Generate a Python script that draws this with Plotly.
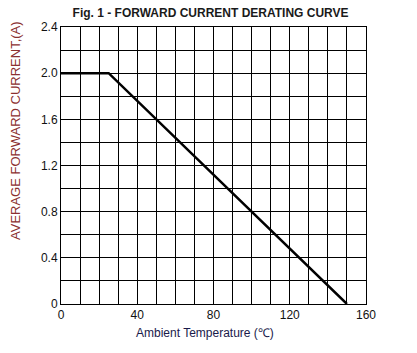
import plotly.graph_objects as go

temps = [0, 25, 150]
current = [2.0, 2.0, 0.0]
x_ticks = [0, 40, 80, 120, 160]
x_labels = ["0", "40", "80", "120", "160"]
y_ticks = [0, 0.4, 0.8, 1.2, 1.6, 2.0, 2.4]
y_labels = ["0", "0.4", "0.8", "1.2", "1.6", "2.0", "2.4"]

fig = go.Figure()
fig.add_trace(go.Scatter(x=temps, y=current, mode="lines",
                         line=dict(color="black", width=2.5), showlegend=False))

font = "Liberation Sans, Arial, sans-serif"
fig.update_layout(
    width=417, height=353,
    margin=dict(l=61, r=51, t=27, b=49),
    paper_bgcolor="white", plot_bgcolor="white",
    title=dict(text="<b>Fig. 1 - FORWARD CURRENT DERATING CURVE</b>",
               x=0.505, xanchor="center", y=0.965, yanchor="middle",
               font=dict(family=font, size=12, color="#1a1a1a")),
    font=dict(family=font, size=12, color="#111"),
    annotations=[
        dict(text="AVERAGE FORWARD CURRENT,(A)", textangle=-90,
             xref="paper", yref="paper", x=(15 - 61) / 305, y=(304 - 131) / 277,
             xanchor="center", yanchor="middle", showarrow=False,
             font=dict(family=font, size=13, color="#8b3030")),
        dict(text="Ambient Temperature (℃)",
             xref="paper", yref="paper", x=(205 - 61) / 305, y=-(333 - 304) / 277,
             xanchor="center", yanchor="middle", showarrow=False,
             font=dict(family=font, size=12, color="#1a1a4a")),
    ],
)
fig.update_xaxes(range=[0, 160], tickvals=x_ticks, ticktext=x_labels,
                 showgrid=True, gridcolor="black", gridwidth=1,
                 minor=dict(dtick=10, showgrid=True, gridcolor="black", gridwidth=1),
                 showline=True, linecolor="black", linewidth=1, mirror=True,
                 zeroline=False, ticks="", ticklen=0,
                 tickfont=dict(family=font, size=12, color="#111"))
fig.update_yaxes(range=[0, 2.4], tickvals=y_ticks, ticktext=y_labels,
                 showgrid=True, gridcolor="black", gridwidth=1,
                 minor=dict(dtick=0.2, showgrid=True, gridcolor="black", gridwidth=1),
                 showline=True, linecolor="black", linewidth=1, mirror=True,
                 zeroline=False, ticks="", ticklen=0,
                 tickfont=dict(family=font, size=12, color="#111"))

fig.write_html("out.html")
